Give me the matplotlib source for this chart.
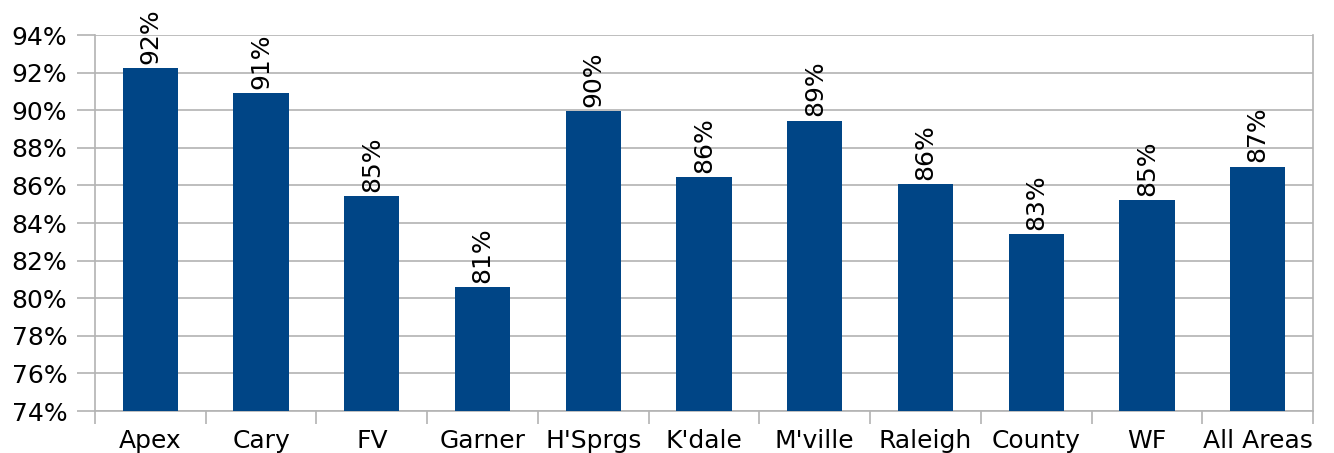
import numpy as np
import matplotlib
matplotlib.use("Agg")
import matplotlib.pyplot as plt
from matplotlib.ticker import FuncFormatter

# data
areas = ["Apex", "Cary", "FV", "Garner", "H'Sprgs", "K'dale",
         "M'ville", "Raleigh", "County", "WF", "All Areas"]
rates = [92.25, 90.9, 85.45, 80.6, 89.95, 86.45, 89.45, 86.05, 83.4, 85.2, 87.0]
y_ticks = [74, 76, 78, 80, 82, 84, 86, 88, 90, 92, 94]

BAR_COLOR = "#004586"
GRID_COLOR = "#b3b3b3"
FONT = "DejaVu Sans"


def main():
    plt.rcParams["font.family"] = FONT
    fig = plt.figure(figsize=(13.34, 4.53), dpi=100)
    ax = fig.add_axes([0.0712, 0.0927, 0.9131, 0.83])

    x = np.arange(len(areas))
    ax.bar(x, [r - y_ticks[0] for r in rates], bottom=y_ticks[0],
           width=0.5, color=BAR_COLOR, zorder=3)

    for xi, r in zip(x, rates):
        ax.annotate(f"{round(r)}%", (xi, r), xytext=(0, 3),
                    textcoords="offset points", rotation=90,
                    ha="center", va="bottom", fontsize=18, zorder=4)

    ax.set_xlim(-0.5, len(areas) - 0.5)
    ax.set_ylim(y_ticks[0], y_ticks[-1])
    ax.set_yticks(y_ticks)
    ax.yaxis.set_major_formatter(FuncFormatter(lambda v, p: f"{v:.0f}%"))
    ax.grid(axis="y", color=GRID_COLOR, linewidth=1.2, zorder=0)

    # boundary ticks between categories, labels centred under bars
    ax.set_xticks(np.arange(-0.5, len(areas), 1.0))
    ax.set_xticklabels([])
    ax.set_xticks(x, minor=True)
    ax.set_xticklabels(areas, minor=True)
    ax.tick_params(axis="x", which="major", length=9, color=GRID_COLOR, width=1.2)
    ax.tick_params(axis="x", which="minor", length=0, pad=13, labelsize=18)
    ax.tick_params(axis="y", length=13, color=GRID_COLOR, width=1.2,
                   pad=7, labelsize=18)

    ax.spines["top"].set_visible(False)
    for side in ["left", "right", "bottom"]:
        ax.spines[side].set_color(GRID_COLOR)
        ax.spines[side].set_linewidth(1.2)

    fig.savefig("out.png", dpi=100)


if __name__ == "__main__":
    main()
